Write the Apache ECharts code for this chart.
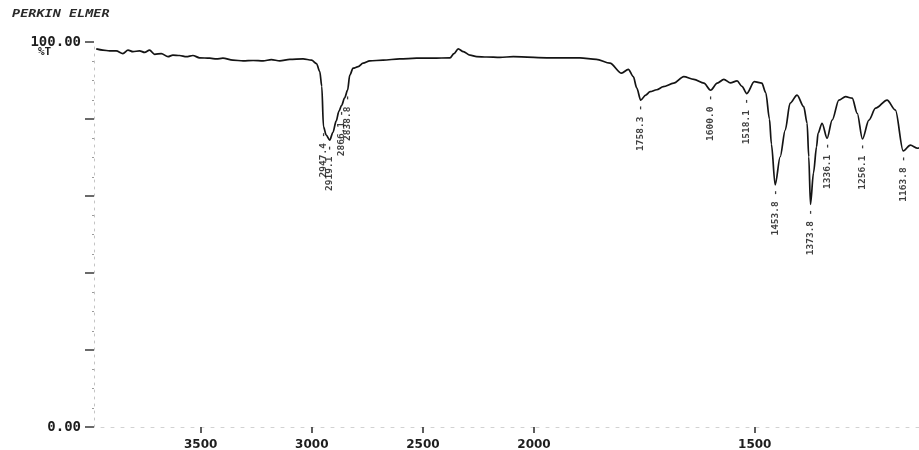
<!DOCTYPE html>
<html>
<head>
<meta charset="utf-8">
<script src="https://cdn.jsdelivr.net/npm/echarts@6.0.0/dist/echarts.min.js"></script>
<style>
  html, body { margin: 0; padding: 0; background: #fff; }
  #chart { width: 919px; height: 450px; }
</style>
</head>
<body>
<div id="chart"></div>
<script>
// IR transmission spectrum: wavenumber (cm-1) against %T
const spectrumWavenumber = [
  3970, 3940, 3910, 3880, 3850, 3827, 3805, 3775, 3752, 3730, 3707, 3677, 3647, 3625,
  3595, 3564, 3535, 3505, 3459, 3429, 3400, 3355, 3309, 3264, 3219, 3182, 3144, 3099,
  3039, 3001, 2979, 2964, 2955, 2947.4, 2935, 2919.1, 2905, 2890, 2878, 2866.1, 2852,
  2838.8, 2829, 2814, 2791, 2769, 2739, 2679, 2604, 2528, 2454, 2378, 2360, 2341, 2318,
  2288, 2258, 2213, 2153, 2093, 2000,
  1971, 1896, 1858.8, 1828, 1801.7, 1786.4, 1775, 1767.4, 1758.3, 1747, 1737, 1722,
  1707, 1683.6, 1660.8, 1637.9, 1615.1, 1600.0, 1585, 1570, 1555, 1540, 1529, 1518.1,
  1501, 1484, 1475, 1466.7, 1462.3, 1453.8, 1442.4, 1431, 1420, 1404.2, 1389.1, 1381.4,
  1377.7, 1373.8, 1367, 1360, 1356.7, 1347.6, 1336.1, 1324.7, 1309.5, 1294.3, 1279.3,
  1267.9, 1256.1, 1241.5, 1226.4, 1200.3, 1181.4, 1163.8, 1147.6, 1131.2, 1120
];
const spectrumTransmittance = [
  98.2, 97.9, 97.7, 97.7, 97.0, 97.9, 97.5, 97.7, 97.3, 97.9, 96.8, 97.0, 96.2, 96.6,
  96.5, 96.2, 96.5, 95.9, 95.8, 95.6, 95.8, 95.3, 95.1, 95.2, 95.1, 95.4, 95.1, 95.5,
  95.6, 95.3, 94.4, 92.3, 88.5, 78.0, 75.8, 74.5, 76.5, 79.5, 82.0, 83.5, 85.5,
  87.5, 91.4, 93.2, 93.6, 94.5, 95.1, 95.3, 95.6, 95.8, 95.8, 95.9, 97.0, 98.2, 97.5,
  96.6, 96.2, 96.1, 96.0, 96.2, 96.0,
  95.9, 95.9, 95.5, 94.5, 91.9, 92.9, 91.0, 88.1, 84.9, 86.2, 87.1, 87.6,
  88.4, 89.3, 91.0, 90.3, 89.3, 87.5, 89.3, 90.3, 89.4, 89.9, 88.5, 86.6,
  89.7, 89.3, 86.8, 80.0, 73.5, 62.9, 70.2, 77.1, 84.1, 86.2, 83.2, 78.9,
  70.2, 57.8, 66.0, 72.8, 76.3, 78.9, 75.0, 79.7, 84.9, 85.8, 85.4,
  81.5, 74.8, 79.7, 82.8, 84.9, 82.3, 71.7, 73.2, 72.4, 73.0
];

// annotated absorption bands
const peakWavenumber = [2947.4, 2919.1, 2866.1, 2838.8, 1758.3, 1600.0, 1518.1, 1453.8, 1373.8, 1336.1, 1256.1, 1163.8];
const peakTransmittance = peakWavenumber.map(w => spectrumTransmittance[spectrumWavenumber.indexOf(w)]);

// axis ticks: the scale is expanded below 2000 cm-1
const highTicks = [3500, 3000, 2500, 2000];
const lowTicks = [1500];
const percentTicks = [0, 20, 40, 60, 80, 100];
const percentLabels = [0, 100];

const SPLIT = 2000;
const pairs = spectrumWavenumber.map((w, i) => [w, spectrumTransmittance[i]]);
const highPart = pairs.filter(p => p[0] >= SPLIT);
const lowPart = pairs.filter(p => p[0] <= SPLIT);
const peakPairs = peakWavenumber.map((w, i) => [w, peakTransmittance[i]]);
const highPeaks = peakPairs.filter(p => p[0] > SPLIT);
const lowPeaks = peakPairs.filter(p => p[0] <= SPLIT);

const ink = '#141414';
const tickFont = { fontFamily: 'DejaVu Sans', fontWeight: 'bold', fontSize: 12, color: '#1e1e1e' };

function xAxisFor(gridIndex, min, max, ticks) {
  return {
    type: 'value', gridIndex, min, max, inverse: true,
    axisLine: { show: true, lineStyle: { color: '#d2d2d2', type: [3, 7], width: 1 } },
    axisTick: { show: true, customValues: ticks, length: 6, lineStyle: { color: '#2a2a2a', width: 1.5 } },
    axisLabel: Object.assign({
      show: true, customValues: ticks, margin: 12,
      formatter: v => String(v)
    }, tickFont),
    splitLine: { show: false }
  };
}

const peakLabel = {
  show: true,
  position: 'bottom',
  distance: 5,
  rotate: 90,
  align: 'right',
  verticalAlign: 'middle',
  fontFamily: 'DejaVu Sans Mono',
  fontWeight: 'bold',
  fontSize: 9.5,
  color: '#0e0e0e',
  formatter: p => p.value[0].toFixed(1) + ' -'
};

const chart = echarts.init(document.getElementById('chart'), null, { renderer: 'canvas' });
chart.setOption({
  backgroundColor: '#ffffff',
  animation: false,
  grid: [
    { left: 94, top: 42, width: 440, height: 385, outerBoundsMode: 'none' },
    { left: 534, top: 42, width: 385, height: 385, outerBoundsMode: 'none' }
  ],
  xAxis: [
    xAxisFor(0, 2000, 3980, highTicks),
    xAxisFor(1, 1128, 2000, lowTicks)
  ],
  yAxis: [
    {
      type: 'value', gridIndex: 0, min: 0, max: 100, interval: 20,
      axisLine: { show: true, lineStyle: { color: '#c4c4c4', type: [2, 5], width: 1 } },
      axisTick: { show: true, customValues: percentTicks, length: 9, lineStyle: { color: '#3a3a3a', width: 1.5 } },
      minorTick: { show: true, splitNumber: 4, length: 2, lineStyle: { color: '#9a9a9a' } },
      axisLabel: {
        show: true, customValues: percentLabels, margin: 13,
        fontFamily: 'DejaVu Sans Mono', fontWeight: 'bold', fontSize: 14, color: '#1e1e1e',
        formatter: v => Number(v).toFixed(2)
      },
      splitLine: { show: false }
    },
    { type: 'value', gridIndex: 1, min: 0, max: 100, show: false }
  ],
  graphic: [
    {
      type: 'text', left: 12, top: 9, scaleX: 1.35,
      style: { text: 'PERKIN ELMER', font: 'italic bold 10px "DejaVu Sans Mono"', fill: '#2a2a2a' }
    },
    {
      type: 'text', left: 38, top: 47,
      style: { text: '%T', font: 'bold 11px "DejaVu Sans Mono"', fill: '#222' }
    }
  ],
  series: [
    {
      type: 'line', xAxisIndex: 0, yAxisIndex: 0, data: highPart,
      showSymbol: false, smooth: 0.3, smoothMonotone: 'x',
      lineStyle: { color: ink, width: 1.7 }
    },
    {
      type: 'line', xAxisIndex: 1, yAxisIndex: 1, data: lowPart,
      showSymbol: false, smooth: 0.3, smoothMonotone: 'x',
      lineStyle: { color: ink, width: 1.7 }
    },
    {
      type: 'scatter', xAxisIndex: 0, yAxisIndex: 0, data: highPeaks,
      symbolSize: 0, silent: true, label: peakLabel
    },
    {
      type: 'scatter', xAxisIndex: 1, yAxisIndex: 1, data: lowPeaks,
      symbolSize: 0, silent: true, label: peakLabel
    }
  ]
});
</script>
</body>
</html>
